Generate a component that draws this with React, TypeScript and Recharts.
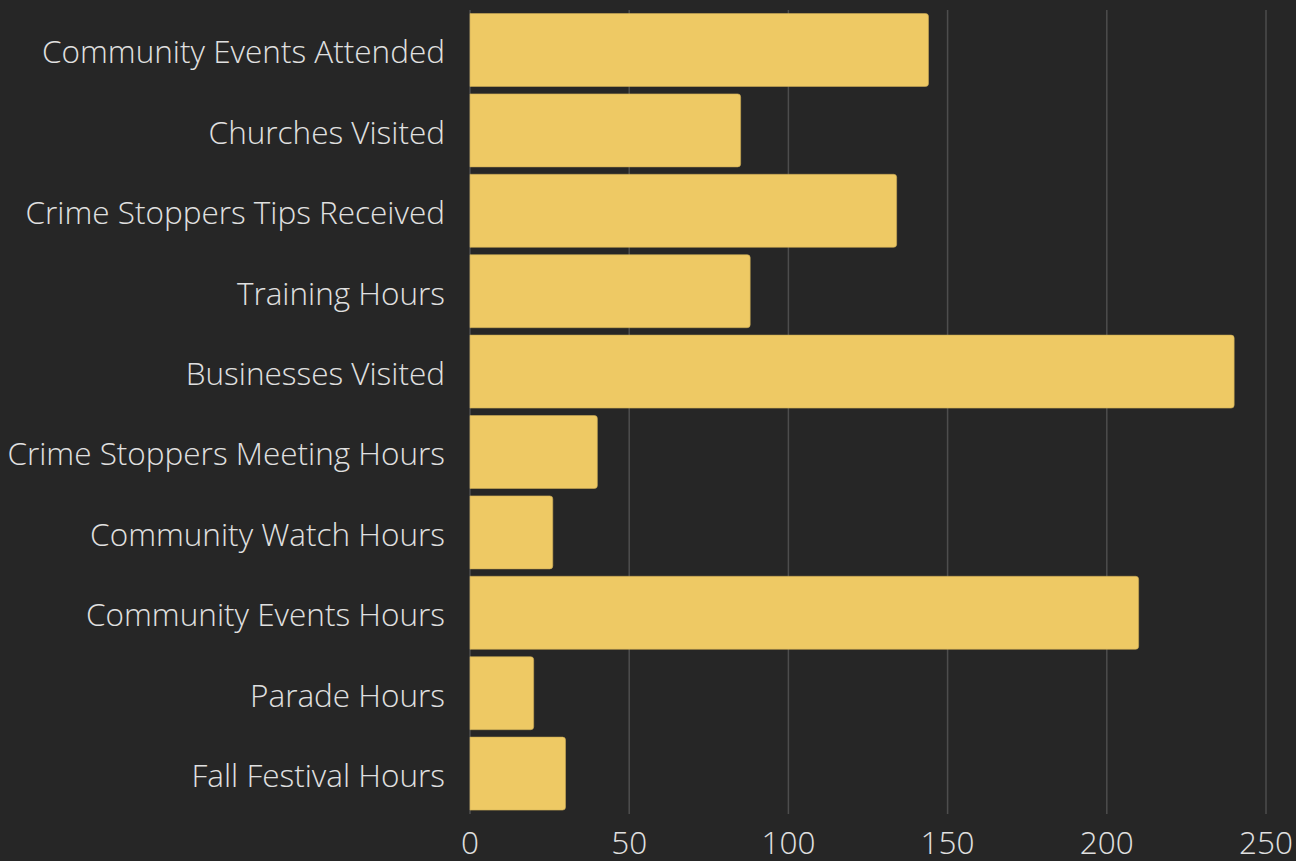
import { BarChart, Bar, XAxis, YAxis, CartesianGrid } from "recharts";

const categories = [
  "Community Events Attended",
  "Churches Visited",
  "Crime Stoppers Tips Received",
  "Training Hours",
  "Businesses Visited",
  "Crime Stoppers Meeting Hours",
  "Community Watch Hours",
  "Community Events Hours",
  "Parade Hours",
  "Fall Festival Hours",
];

const values = [144, 85, 134, 88, 240, 40, 26, 210, 20, 30];

const xTicks = [0, 50, 100, 150, 200, 250];

const data = categories.map((name, i) => ({ name, value: values[i] }));

const tickStyle = { fill: "#e0e0e0", fontSize: 31.5, fontFamily: "'Open Sans', sans-serif", fontWeight: 300 };

const App = () => {
  return (
    <div style={{ position: "absolute", top: 0, left: 0, width: 1296, height: 861, background: "#262626" }}>
      <BarChart
        width={1296}
        height={861}
        data={data}
        layout="vertical"
        margin={{ top: 10, right: 30, bottom: 0, left: 0 }}
        barCategoryGap={3.5}
      >
        <CartesianGrid horizontal={false} stroke="#4d4d4d" strokeWidth={1.5} />
        <XAxis
          type="number"
          domain={[0, 250]}
          ticks={xTicks}
          height={47}
          axisLine={false}
          tickLine={false}
          tickMargin={12}
          tick={tickStyle}
          interval={0}
        />
        <YAxis
          type="category"
          dataKey="name"
          width={470}
          axisLine={false}
          tickLine={false}
          tickMargin={19}
          tick={{ ...tickStyle, dy: 2 }}
          interval={0}
        />
        <Bar dataKey="value" fill="#eec964" stroke="#c9aa55" strokeWidth={0.6} radius={[0, 3, 3, 0]} isAnimationActive={false} />
      </BarChart>
    </div>
  );
};

export default App;
